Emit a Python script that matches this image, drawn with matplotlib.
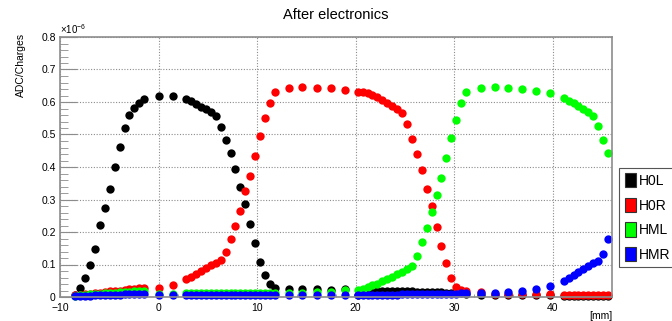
import numpy as np
import matplotlib
matplotlib.use("Agg")
import matplotlib.pyplot as plt
from matplotlib.patches import Patch
from matplotlib.ticker import MultipleLocator

plt.rcParams['font.family'] = ['Liberation Sans', 'DejaVu Sans']
plt.rcParams['mathtext.fontset'] = 'custom'
plt.rcParams['mathtext.rm'] = 'Liberation Sans'
plt.rcParams['mathtext.it'] = 'Liberation Sans'

# scan positions [mm]
pos = [-8.45, -7.95, -7.45, -6.95, -6.45, -5.95, -5.45, -4.95, -4.45, -3.95,
       -3.45, -2.95, -2.45, -1.95, -1.45,
       0.0, 1.45,
       2.8, 3.3, 3.8, 4.3, 4.8, 5.3, 5.8, 6.3, 6.8, 7.3, 7.8, 8.3, 8.8, 9.3,
       9.8, 10.3, 10.8, 11.3, 11.8,
       13.2, 14.6, 16.05, 17.45, 18.9,
       20.2, 20.7, 21.2, 21.7, 22.2, 22.7, 23.2, 23.7, 24.2, 24.7, 25.2, 25.7,
       26.2, 26.7, 27.2, 27.7, 28.2, 28.7, 29.2, 29.7, 30.2, 30.7, 31.2,
       32.7, 34.1, 35.5, 36.9, 38.3, 39.7,
       41.1, 41.6, 42.1, 42.6, 43.1, 43.6, 44.1, 44.6, 45.1, 45.6]

# ADC/Charges in units of 1e-6
h0l = [0.007, 0.029, 0.060, 0.100, 0.149, 0.222, 0.273, 0.333, 0.399, 0.462,
       0.520, 0.559, 0.583, 0.598, 0.609,
       0.619, 0.619,
       0.608, 0.603, 0.594, 0.585, 0.577, 0.570, 0.558, 0.524, 0.483, 0.442,
       0.394, 0.337, 0.285, 0.226, 0.165, 0.108, 0.067, 0.041, 0.029,
       0.026, 0.024, 0.024, 0.023, 0.024,
       0.006, 0.010, 0.013, 0.016, 0.018, 0.019, 0.019, 0.019, 0.018, 0.018,
       0.017, 0.017, 0.016, 0.016, 0.015, 0.015, 0.014, 0.014, 0.013, 0.012,
       0.012, 0.011, 0.010,
       0.006, 0.006, 0.006, 0.006, 0.006, 0.006,
       0.004, 0.004, 0.004, 0.004, 0.004, 0.004, 0.004, 0.004, 0.004, 0.004]

h0r = [0.005, 0.007, 0.008, 0.010, 0.012, 0.013, 0.015, 0.017, 0.019, 0.020,
       0.022, 0.024, 0.026, 0.027, 0.029,
       0.028, 0.036,
       0.054, 0.062, 0.072, 0.080, 0.088, 0.098, 0.105, 0.113, 0.137, 0.177,
       0.220, 0.264, 0.326, 0.373, 0.433, 0.495, 0.550, 0.598, 0.632,
       0.642, 0.645, 0.642, 0.642, 0.637,
       0.632, 0.630, 0.627, 0.621, 0.614, 0.606, 0.598, 0.587, 0.577, 0.565,
       0.532, 0.486, 0.440, 0.390, 0.331, 0.279, 0.216, 0.157, 0.105, 0.060,
       0.031, 0.023, 0.018,
       0.015, 0.010, 0.010, 0.009, 0.008, 0.010,
       0.007, 0.007, 0.007, 0.007, 0.007, 0.007, 0.007, 0.007, 0.007, 0.007]

hml = [0.004, 0.005, 0.006, 0.008, 0.009, 0.010, 0.011, 0.012, 0.013, 0.014,
       0.015, 0.016, 0.017, 0.018, 0.019,
       0.010, 0.010,
       0.012, 0.012, 0.012, 0.012, 0.012, 0.012, 0.012, 0.012, 0.012, 0.012,
       0.012, 0.012, 0.012, 0.012, 0.012, 0.012, 0.012, 0.012, 0.012,
       0.012, 0.013, 0.014, 0.016, 0.022,
       0.023, 0.026, 0.031, 0.036, 0.041, 0.048, 0.055, 0.062, 0.070, 0.077,
       0.085, 0.095, 0.126, 0.168, 0.213, 0.262, 0.315, 0.367, 0.429, 0.488,
       0.544, 0.596, 0.632,
       0.644, 0.647, 0.642, 0.640, 0.635, 0.627,
       0.611, 0.604, 0.598, 0.588, 0.577, 0.570, 0.558, 0.527, 0.483, 0.444]

hmr = [0.003, 0.003, 0.004, 0.004, 0.005, 0.005, 0.006, 0.006, 0.007, 0.007,
       0.008, 0.008, 0.009, 0.009, 0.010,
       0.007, 0.007,
       0.006, 0.006, 0.006, 0.006, 0.006, 0.006, 0.006, 0.006, 0.006, 0.006,
       0.006, 0.006, 0.006, 0.006, 0.006, 0.006, 0.006, 0.006, 0.006,
       0.006, 0.006, 0.006, 0.006, 0.006,
       0.006, 0.006, 0.006, 0.006, 0.007, 0.007, 0.007, 0.007, 0.007, 0.008,
       0.008, 0.008, 0.008, 0.008, 0.009, 0.009, 0.009, 0.009, 0.010, 0.010,
       0.010, 0.011, 0.011,
       0.012, 0.012, 0.015, 0.018, 0.024, 0.033,
       0.049, 0.059, 0.067, 0.077, 0.085, 0.096, 0.105, 0.110, 0.132, 0.177]

names = ['H0L', 'H0R', 'HML', 'HMR']
colors = ['#000000', '#ff0000', '#00ff00', '#0000ff']

fig = plt.figure(figsize=(6.72, 3.21), dpi=100)
ax = fig.add_axes([60/672, 1 - 297/321, 552/672, 260/321])

for ys, c in zip([h0l, h0r, hml, hmr], colors):
    ax.plot(pos, ys, 'o', color=c, markersize=6, markeredgewidth=0, clip_on=False)

ax.set_xlim(-10, 46)
ax.set_ylim(0, 0.8)
ax.xaxis.set_major_locator(MultipleLocator(10))
ax.xaxis.set_minor_locator(MultipleLocator(2))
ax.yaxis.set_major_locator(MultipleLocator(0.1))
ax.yaxis.set_minor_locator(MultipleLocator(0.02))
ax.yaxis.set_major_formatter(plt.FuncFormatter(lambda v, p: '0' if abs(v) < 1e-9 else f'{v:g}'))

ax.grid(True, which='major', color='#8c8c8c', linestyle=(0, (1, 1.5)), linewidth=0.8)
for s in ax.spines.values():
    s.set_color('#8c8c8c')
    s.set_linewidth(1.2)
ax.tick_params(axis='y', which='major', direction='in', length=12, color='#8c8c8c',
               labelsize=7.5, pad=3, right=False)
ax.tick_params(axis='y', which='minor', direction='in', length=6, color='#8c8c8c')
ax.tick_params(axis='x', which='major', direction='in', length=5, color='#8c8c8c',
               labelsize=7.5, pad=4, top=False)
ax.tick_params(axis='x', which='minor', direction='in', length=2.5, color='#8c8c8c')

fig.text(336/672, 1 - 15/321, 'After electronics', ha='center', va='center', fontsize=10.5)
fig.text(20.7/672, 1 - 33/321, 'ADC/Charges', rotation=90, ha='center', va='top', fontsize=7.5)
fig.text(60/672, 1 - 36/321, r'$\times10^{-6}$', ha='left', va='bottom', fontsize=7)
fig.text(612/672, 1 - 319/321, '[mm]', ha='right', va='baseline', fontsize=7.5)

handles = [Patch(facecolor=c, edgecolor='#333333', linewidth=0.8) for c in colors]
leg = fig.legend(handles, names, loc='upper left',
                 bbox_to_anchor=(619/672, 1 - 167.7/321), fontsize=10,
                 handlelength=0.8, handleheight=1.2, handletextpad=0.2,
                 labelspacing=0.7, borderpad=0.4, borderaxespad=0,
                 fancybox=False, framealpha=1, edgecolor='#555555')
leg.get_frame().set_linewidth(0.8)

fig.savefig('out.png', dpi=100)
